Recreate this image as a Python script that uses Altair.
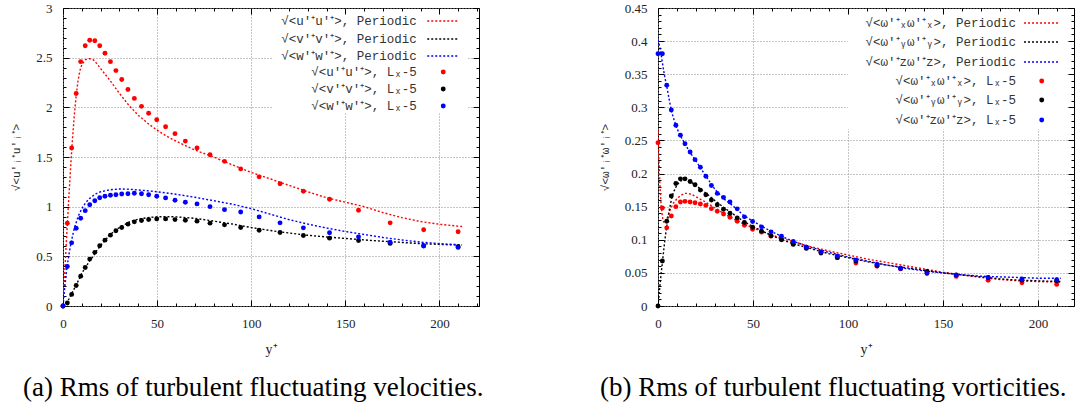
import altair as alt
import pandas as pd

SERIF = "Liberation Serif"
MONO = "Liberation Mono"
COLORS = ["#ff0000", "#000000", "#0000ff"]

# ---------------- (a) velocities ----------------
# Lx-5 sample points (shared wall-normal grid)
YP_PTS = [0, 2.3, 4.6, 7.0, 9.4, 11.8, 14.2, 16.9, 19.5, 22.3, 25.2, 28.1, 31.2, 34.5,
          37.9, 41.7, 45.5, 49.8, 54.5, 59.5, 65.0, 71.2, 78.1, 85.8, 94.4, 104.2,
          115.3, 127.7, 141.6, 157.0, 173.8, 191.6, 209.9]
U_PTS = [0, 0.834, 1.59, 2.14, 2.46, 2.62, 2.675, 2.67, 2.62, 2.545, 2.46, 2.37, 2.28,
         2.18, 2.09, 2.01, 1.94, 1.875, 1.805, 1.735, 1.66, 1.59, 1.523, 1.456, 1.38,
         1.30, 1.23, 1.155, 1.075, 0.964, 0.837, 0.767, 0.747]
V_PTS = [0, 0.03, 0.117, 0.207, 0.30, 0.388, 0.472, 0.54, 0.606, 0.663, 0.713, 0.757,
         0.79, 0.824, 0.847, 0.86, 0.87, 0.877, 0.877, 0.87, 0.864, 0.854, 0.834, 0.817,
         0.79, 0.763, 0.74, 0.71, 0.683, 0.66, 0.63, 0.606, 0.596]
W_PTS = [0, 0.398, 0.636, 0.783, 0.884, 0.96, 1.02, 1.06, 1.09, 1.105, 1.115, 1.12,
         1.128, 1.13, 1.135, 1.13, 1.12, 1.105, 1.088, 1.065, 1.045, 1.028, 1.0, 0.97,
         0.947, 0.897, 0.837, 0.787, 0.737, 0.696, 0.643, 0.603, 0.59]

# Periodic (dotted) curves
YP_LINE_A = [0, 1, 2, 3, 4, 5, 6, 7, 8, 9, 10, 12, 14, 16, 18, 20, 25, 30, 35, 40, 45,
             50, 55, 60, 70, 80, 90, 100, 110, 120, 130, 140, 150, 160, 170, 180, 190,
             200, 212]
U_LINE = [0, 0.36, 0.72, 1.06, 1.38, 1.67, 1.92, 2.12, 2.27, 2.37, 2.43, 2.48, 2.49,
          2.48, 2.44, 2.39, 2.27, 2.14, 2.02, 1.92, 1.84, 1.77, 1.71, 1.66, 1.57, 1.50,
          1.42, 1.345, 1.28, 1.215, 1.15, 1.09, 1.045, 1.0, 0.94, 0.89, 0.85, 0.823, 0.80]
V_LINE = [0, 0.01, 0.035, 0.065, 0.10, 0.14, 0.175, 0.21, 0.25, 0.29, 0.33, 0.39, 0.45,
          0.50, 0.56, 0.61, 0.72, 0.79, 0.845, 0.875, 0.89, 0.897, 0.90, 0.897, 0.883,
          0.855, 0.825, 0.79, 0.76, 0.735, 0.712, 0.695, 0.68, 0.665, 0.652, 0.64, 0.628,
          0.62, 0.612]
W_LINE = [0, 0.20, 0.37, 0.50, 0.61, 0.70, 0.78, 0.84, 0.90, 0.94, 0.98, 1.04, 1.08,
          1.11, 1.135, 1.15, 1.17, 1.178, 1.176, 1.168, 1.16, 1.15, 1.138, 1.125, 1.095,
          1.06, 1.025, 0.98, 0.925, 0.87, 0.825, 0.785, 0.75, 0.72, 0.69, 0.665, 0.643,
          0.628, 0.615]

LAB_P_A = ["√<u′⁺u′⁺>, Periodic", "√<v′⁺v′⁺>, Periodic", "√<w′⁺w′⁺>, Periodic"]
LAB_D_A = ["√<u′⁺u′⁺>, Lₓ-5", "√<v′⁺v′⁺>, Lₓ-5", "√<w′⁺w′⁺>, Lₓ-5"]

# ---------------- (b) vorticities ----------------
WX_PTS = [0.2466, 0.148, 0.118, 0.136, 0.150, 0.157, 0.158, 0.157, 0.156, 0.154, 0.152,
          0.147, 0.143, 0.139, 0.134, 0.128, 0.122, 0.116, 0.1115, 0.1055, 0.1005, 0.094,
          0.088, 0.081, 0.073, 0.065, 0.060, 0.056, 0.049, 0.0447, 0.0387, 0.0352, 0.0326]
WY_PTS = [0, 0.068, 0.128, 0.166, 0.185, 0.192, 0.192, 0.188, 0.183, 0.175, 0.168, 0.160,
          0.153, 0.146, 0.140, 0.133, 0.126, 0.119, 0.113, 0.106, 0.100, 0.093, 0.087,
          0.080, 0.073, 0.068, 0.061, 0.057, 0.052, 0.047, 0.0427, 0.039, 0.038]
WZ_PTS = [0.381, 0.381, 0.3335, 0.296, 0.273, 0.258, 0.245, 0.2325, 0.221, 0.2095, 0.196,
          0.182, 0.170, 0.164, 0.157, 0.1467, 0.1346, 0.1276, 0.1195, 0.112, 0.1055,
          0.0974, 0.0889, 0.0814, 0.0753, 0.0693, 0.0628, 0.0568, 0.0497, 0.0467, 0.0432,
          0.0407, 0.0397]

YP_LINE_B = [0, 0.5, 1, 1.5, 2, 2.5, 3, 3.5, 4, 5, 6, 7, 8, 10, 12, 14, 16, 18, 20, 25,
             30, 35, 40, 45, 50, 60, 70, 80, 90, 100, 110, 120, 130, 140, 150, 160, 170,
             180, 190, 200, 212]
WX_LINE = [0.267, 0.22, 0.183, 0.158, 0.142, 0.132, 0.127, 0.125, 0.127, 0.134, 0.142,
           0.149, 0.155, 0.162, 0.167, 0.170, 0.170, 0.168, 0.165, 0.157, 0.148, 0.139,
           0.131, 0.124, 0.118, 0.107, 0.098, 0.090, 0.083, 0.077, 0.071, 0.066, 0.061,
           0.056, 0.051, 0.047, 0.043, 0.040, 0.038, 0.037, 0.036]
WY_LINE = [0, 0.015, 0.03, 0.045, 0.058, 0.071, 0.084, 0.097, 0.108, 0.128, 0.146, 0.160,
           0.171, 0.183, 0.189, 0.190, 0.189, 0.186, 0.182, 0.171, 0.159, 0.148, 0.138,
           0.128, 0.120, 0.106, 0.095, 0.087, 0.079, 0.073, 0.067, 0.062, 0.058, 0.054,
           0.050, 0.047, 0.044, 0.041, 0.039, 0.038, 0.037]
WZ_LINE = [0.402, 0.397, 0.390, 0.382, 0.373, 0.364, 0.355, 0.347, 0.340, 0.326, 0.310,
           0.296, 0.285, 0.268, 0.256, 0.246, 0.236, 0.227, 0.219, 0.197, 0.176, 0.161,
           0.150, 0.137, 0.128, 0.112, 0.099, 0.089, 0.081, 0.074, 0.068, 0.062, 0.057,
           0.053, 0.050, 0.047, 0.045, 0.044, 0.043, 0.042, 0.042]

LAB_P_B = ["√<ω′⁺ₓω′⁺ₓ>, Periodic", "√<ω′⁺ᵧω′⁺ᵧ>, Periodic", "√<ω′⁺zω′⁺z>, Periodic"]
LAB_D_B = ["√<ω′⁺ₓω′⁺ₓ>, Lₓ-5", "√<ω′⁺ᵧω′⁺ᵧ>, Lₓ-5", "√<ω′⁺zω′⁺z>, Lₓ-5"]

# key (legend) placement, in each panel's data units
KEY_A = {"tx": 188.0, "x1": 193.5, "x2": 210.5, "dx": 202.0,
         "rows": [2.869, 2.688, 2.517, 2.356, 2.185, 2.014],
         "box": [111.0, 215.0, 1.94, 2.965]}
KEY_B = {"tx": 188.5, "x1": 192.7, "x2": 211.1, "dx": 202.0,
         "rows": [0.4274, 0.3987, 0.3685, 0.3398, 0.3111, 0.2809],
         "box": [100.0, 215.5, 0.267, 0.445]}


def long_df(xs, series, labels):
    rows = []
    for lab, ys in zip(labels, series):
        for x, y in zip(xs, ys):
            rows.append({"x": x, "y": y, "s": lab})
    return pd.DataFrame(rows)


def tick_size(test):
    return {"condition": {"test": test, "value": -6}, "value": -3}


def panel(xl, lines, lab_p, xp, pts, lab_d, xmax, ymax, ymajor, yminor,
          ytitle, caption, cap_dx, key):
    ldf = long_df(xl, lines, lab_p)
    pdf = long_df(xp, pts, lab_d)
    xsc = alt.Scale(domain=[0, xmax], nice=False, zero=False)
    ysc = alt.Scale(domain=[0, ymax], nice=False, zero=False)
    stroke_sc = alt.Scale(domain=lab_p, range=COLORS)
    fill_sc = alt.Scale(domain=lab_d, range=COLORS)
    xvals = [v for v in range(0, 230, 10) if v <= xmax]
    nmin = int(round(ymax / yminor))
    yvals = [round(i * yminor, 4) for i in range(nmin + 1)]
    xmaj = "datum.value % 50 == 0"
    ymaj = f"abs(datum.value / {ymajor} - round(datum.value / {ymajor})) < 0.001"

    ax_bottom = alt.Axis(
        orient="bottom", values=xvals, domain=False, grid=True,
        gridOpacity={"condition": {"test": xmaj, "value": 1}, "value": 0},
        gridColor="#8c8c8c", gridDash=[1, 2], gridWidth=1,
        tickSize=tick_size(xmaj), tickColor="black", tickWidth=1,
        labelExpr=f"({xmaj}) ? format(datum.value, '~g') : ''",
        labelFlush=False, labelOverlap=False, labelPadding=17,
        labelFont=SERIF, labelFontSize=13, labelColor="#222",
        title="y⁺", titleFont=SERIF, titleFontSize=14, titleFontWeight="normal",
        titleColor="#222", titlePadding=9)
    ax_left = alt.Axis(
        orient="left", values=yvals, domain=False, grid=True,
        gridOpacity={"condition": {"test": ymaj, "value": 1}, "value": 0},
        gridColor="#8c8c8c", gridDash=[1, 2], gridWidth=1,
        tickSize=tick_size(ymaj), tickColor="black", tickWidth=1,
        labelExpr=f"({ymaj}) ? format(datum.value, '~g') : ''",
        labelFlush=False, labelOverlap=False, labelPadding=17,
        labelFont=SERIF, labelFontSize=13, labelColor="#222",
        title=ytitle, titleFont=MONO, titleFontSize=11, titleFontWeight="normal",
        titleColor="#222", titlePadding=14)
    ax_top = alt.Axis(
        orient="top", values=xvals, domain=False, grid=False, labels=False,
        tickSize=tick_size(xmaj), tickColor="black", tickWidth=1, title=None,
        zindex=1)
    ax_right = alt.Axis(
        orient="right", values=yvals, domain=False, grid=False, labels=False,
        tickSize=tick_size(ymaj), tickColor="black", tickWidth=1, title=None,
        zindex=1)

    # white key background (hides the grid behind the key, as in the figure)
    b = key["box"]
    box = alt.Chart(pd.DataFrame({"x": [b[0]], "x2": [b[1]], "y": [b[2]], "y2": [b[3]]})
                    ).mark_rect(fill="white").encode(
        x=alt.X("x:Q", scale=xsc, axis=None), x2="x2:Q",
        y=alt.Y("y:Q", scale=ysc, axis=None), y2="y2:Q")

    line_layer = alt.Chart(ldf).mark_line(
        strokeDash=[2, 2], strokeWidth=1.4, clip=True
    ).encode(
        x=alt.X("x:Q", scale=xsc, axis=ax_bottom),
        y=alt.Y("y:Q", scale=ysc, axis=ax_left),
        stroke=alt.Stroke("s:N", scale=stroke_sc, legend=None),
    )
    point_layer = alt.Chart(pdf).mark_circle(size=24, opacity=1).encode(
        x=alt.X("x:Q", scale=xsc, axis=ax_top),
        y=alt.Y("y:Q", scale=ysc, axis=ax_right),
        fill=alt.Fill("s:N", scale=fill_sc, legend=None),
    )

    rows = key["rows"]
    kt = alt.Chart(pd.DataFrame({"t": lab_p + lab_d, "x": [key["tx"]] * 6, "y": rows})
                   ).mark_text(align="right", baseline="middle", font=MONO,
                               fontSize=12.5, color="#333").encode(
        x=alt.X("x:Q", scale=xsc, axis=None),
        y=alt.Y("y:Q", scale=ysc, axis=None), text="t:N")
    ks = alt.Chart(pd.DataFrame({"s": lab_p, "x": [key["x1"]] * 3,
                                 "x2": [key["x2"]] * 3, "y": rows[:3]})
                   ).mark_rule(strokeDash=[2, 2], strokeWidth=1.4).encode(
        x=alt.X("x:Q", scale=xsc, axis=None), x2="x2:Q",
        y=alt.Y("y:Q", scale=ysc, axis=None),
        stroke=alt.Stroke("s:N", scale=stroke_sc, legend=None))
    kd = alt.Chart(pd.DataFrame({"s": lab_d, "x": [key["dx"]] * 3, "y": rows[3:]})
                   ).mark_circle(size=24, opacity=1).encode(
        x=alt.X("x:Q", scale=xsc, axis=None),
        y=alt.Y("y:Q", scale=ysc, axis=None),
        fill=alt.Fill("s:N", scale=fill_sc, legend=None))

    return alt.layer(box, line_layer, point_layer, kt, ks, kd).resolve_axis(
        x="independent", y="independent"
    ).properties(
        width=416, height=298,
        title=alt.TitleParams(
            text=caption, orient="bottom", anchor="start", frame="group",
            dx=cap_dx, offset=19, font=SERIF, fontSize=27, fontWeight="normal",
            color="black"),
    )


left = panel(YP_LINE_A, [U_LINE, V_LINE, W_LINE], LAB_P_A,
             YP_PTS, [U_PTS, V_PTS, W_PTS], LAB_D_A,
             xmax=221, ymax=3, ymajor=0.5, yminor=0.1,
             ytitle="√<u′ᵢ⁺u′ᵢ⁺>",
             caption="(a) Rms of turbulent fluctuating velocities.",
             cap_dx=-40, key=KEY_A)
right = panel(YP_LINE_B, [WX_LINE, WY_LINE, WZ_LINE], LAB_P_B,
              YP_PTS, [WX_PTS, WY_PTS, WZ_PTS], LAB_D_B,
              xmax=219, ymax=0.45, ymajor=0.05, yminor=0.01,
              ytitle="√<ω′ᵢ⁺ω′ᵢ⁺>",
              caption="(b) Rms of turbulent fluctuating vorticities.",
              cap_dx=-58, key=KEY_B)

chart = alt.hconcat(left, right, spacing=179, bounds="flush").properties(
    padding={"left": 10, "top": 1, "right": 0, "bottom": 0}
).configure_view(stroke="black", strokeWidth=1)

chart.save("out.html", embed_options={"renderer": "svg", "actions": False})
